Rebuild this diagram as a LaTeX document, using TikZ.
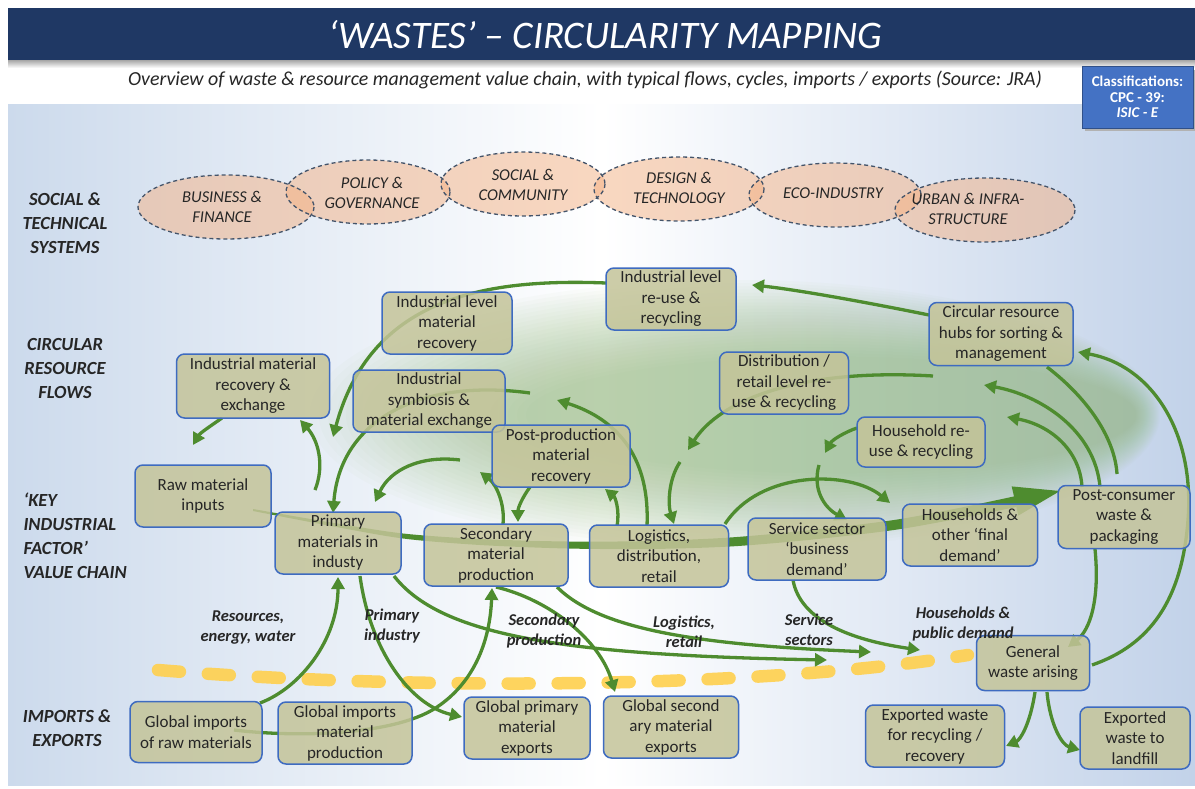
\documentclass[tikz,border=0pt]{standalone}
\usepackage{fontspec}
\setmainfont{Carlito}
\usetikzlibrary{arrows.meta}
\definecolor{navy}{HTML}{1F3864}
\definecolor{boxfill}{HTML}{C4C499}
\definecolor{boxblue}{HTML}{3E6BC0}
\definecolor{agreen}{HTML}{4E8C2F}
\definecolor{glow}{HTML}{8FB776}
\definecolor{peach}{HTML}{F4B183}
\definecolor{slate}{HTML}{44546A}
\definecolor{txt}{HTML}{262626}
\definecolor{ylw}{HTML}{FFD04D}
\definecolor{bgl}{HTML}{CCDAEC}
\definecolor{bgr}{HTML}{C2D2E9}
\definecolor{clsblue}{HTML}{4472C4}
\begin{document}
\begin{tikzpicture}[x=1pt,y=-1pt,
  box/.style={draw=boxblue, line width=1.5pt, fill=boxfill, fill opacity=0.85, text opacity=1,
    rounded corners=8pt, align=center, text=txt, inner sep=1pt,
    font=\fontsize{17}{20.5}\selectfont},
  sz/.style 2 args={minimum width=#1pt, minimum height=#2pt},
  flow/.style={draw=agreen, line width=3.3pt, -{Triangle[length=12pt,width=13pt]}},
  flown/.style={draw=agreen, line width=3.3pt},
  sysfill/.style={fill=peach, fill opacity=0.5},
  sysline/.style={draw=slate, line width=1.3pt, dash pattern=on 4pt off 3pt},
  systxt/.style={align=center, text=txt, font=\fontsize{16.5}{20}\selectfont\itshape},
  side/.style={align=center, text=txt, font=\fontsize{18.5}{24}\selectfont\bfseries\itshape},
  lab/.style={align=center, text=txt, font=\fontsize{16.5}{20}\selectfont\bfseries\itshape}]
\useasboundingbox (0,0) rectangle (1195,789);
% ---------- background ----------
\fill[white] (0,0) rectangle (1195,789);
\shade[left color=bgl, right color=bgr, middle color=white] (8,105) rectangle (1195,785);
\shade[top color=black!35, bottom color=white] (8,60) rectangle (1195,68);
\fill[navy] (8,8) rectangle (1195,60);
\node[text=white, font=\fontsize{39}{44}\selectfont\itshape] (title) at (605,35) {‘WASTES’ – CIRCULARITY MAPPING};
\node[text=txt, font=\fontsize{19.9}{22}\selectfont\itshape] (subtitle) at (585,80)
  {Overview of waste \& resource management value chain, with typical flows, cycles, imports / exports (Source: JRA)};
\fill[black!30] (1085,70) rectangle (1196,131);
\node[draw=clsblue!70!black, line width=0.8pt, fill=clsblue, text=white, align=center, inner sep=0pt,
  minimum width=111pt, minimum height=62pt, font=\fontsize{15}{15.5}\selectfont\bfseries] (cls) at (1137.5,97)
  {Classifications:\\CPC - 39:\\\textit{ISIC - E}};
% ---------- green glow ----------
\foreach \k in {0,...,24} {
  \fill[glow, opacity=0.032] ({735+\k*4},415) ellipse ({425-\k*5} and {135-\k*3.2});
}
% ---------- social & technical systems ----------
\fill[sysfill] (226,207) ellipse (88 and 32);
\fill[sysfill] (368,192) ellipse (82 and 32);
\fill[sysfill] (523,184) ellipse (82 and 32);
\fill[sysfill] (679,189) ellipse (85 and 32);
\fill[sysfill] (835,195) ellipse (86 and 32);
\fill[sysfill] (985,210) ellipse (90 and 32);
\draw[sysline] (226,207) ellipse (88 and 32);
\draw[sysline] (368,192) ellipse (82 and 32);
\draw[sysline] (523,184) ellipse (82 and 32);
\draw[sysline] (679,189) ellipse (85 and 32);
\draw[sysline] (835,195) ellipse (86 and 32);
\draw[sysline] (985,210) ellipse (90 and 32);
\node[systxt] (s1) at (222,207) {BUSINESS \&\\FINANCE};
\node[systxt] (s2) at (372,193) {POLICY \&\\GOVERNANCE};
\node[systxt] (s3) at (523,185) {SOCIAL \&\\COMMUNITY};
\node[systxt] (s4) at (679,188) {DESIGN \&\\TECHNOLOGY};
\node[systxt] (s5) at (833,193) {ECO-INDUSTRY};
\node[systxt] (s6) at (968,209) {URBAN \& INFRA-\\STRUCTURE};
% ---------- side labels ----------
\node[side] (l1) at (65,223) {SOCIAL \&\\TECHNICAL\\SYSTEMS};
\node[side] (l2) at (65,368) {CIRCULAR\\RESOURCE\\FLOWS};
\node[side, align=left, anchor=west] (l3) at (20,536) {‘KEY\\INDUSTRIAL\\FACTOR’\\VALUE CHAIN};
\node[side] (l4) at (67,728) {IMPORTS \&\\EXPORTS};
% ---------- yellow boundary ----------
\draw[ylw, opacity=0.9, line width=12.5pt, line cap=round, dash pattern=on 22pt off 28pt]
  (158,670) .. controls (400,690) and (750,690) .. (968,655);
% ---------- named coordinates ----------
\coordinate (c1) at (333,437);
\coordinate (c2) at (752,285);
\coordinate (c3) at (984,385);
\coordinate (c4) at (1007,417);
\coordinate (c5) at (933,376);
\coordinate (c6) at (688,450);
\coordinate (c7) at (825,453);
\coordinate (c8) at (680,462);
\coordinate (c9) at (819,465);
\coordinate (c10) at (315,490);
\coordinate (c11) at (193,445);
\coordinate (c12) at (530,393);
\coordinate (c13) at (460,460);
\coordinate (c14) at (375,502);
\coordinate (c15) at (480,472);
\coordinate (c16) at (557,400);
\coordinate (c17) at (890,503);
\coordinate (c18) at (827,660);
\coordinate (c19) at (871,652);
\coordinate (c20) at (920,650);
\coordinate (c21) at (1117,474);
% ---------- main spine ----------
\fill[agreen] plot[smooth] coordinates {(253,509) (330,522.3) (403,533.5) (480,539) (567,541.5) (650,541) (730,537.5) (810,530.2) (894,520) (960,507.8) (1016,496)}
  -- plot[smooth] coordinates {(1016,507) (960,518.3) (894,530) (810,539.8) (730,546.5) (650,549) (567,548.5) (480,545) (403,538.5) (330,525.8) (253,511)} -- cycle;
\fill[agreen] (1060,491) -- (1018.3,515.6) -- (1011.7,486.4) -- cycle;
% ---------- flows (drawn first so boxes sit on top) ----------
\path (606,283) coordinate (ilrw);
\draw[flow] (ilrw) .. controls (480,278) and (370,300) .. (c1);
\draw[flow] (929,315) coordinate (hubw) .. controls (880,305) and (800,290) .. (c2);
\draw[flow] (1092,665) coordinate (genr) .. controls (1150,645) and (1182,600) .. (1188,520)
   .. controls (1195,430) and (1150,365) .. (1078,352) coordinate (hubr);
\draw[flow] (1100,487) coordinate (pt1) .. controls (1095,430) and (1040,395) .. (c3);
\draw[flow] (1082,487) coordinate (pt2) .. controls (1080,450) and (1050,425) .. (c4);
\draw[flown] (1047,367) coordinate (hubb) .. controls (1090,400) and (1115,440) .. (c21);
\draw[flow] (1095,549) coordinate (pb) .. controls (1100,600) and (1090,630) .. (1068,647) coordinate (gent);
\draw[flow] (1035,692) coordinate (genb1) .. controls (1030,725) and (1020,740) .. (1006,746) coordinate (exre);
\draw[flow] (1047,692) coordinate (genb2) .. controls (1050,725) and (1062,745) .. (1080,750) coordinate (exlw);
\draw[flow] (c5) .. controls (800,368) and (720,400) .. (c6);
\draw[flow] (857,428) coordinate (hrew) .. controls (845,432) and (832,440) .. (c7);
\draw[flow] (c8) .. controls (668,480) and (668,505) .. (674,524) coordinate (logt);
\draw[flow] (c9) .. controls (812,490) and (825,508) .. (847,520) coordinate (servt);
\draw[flow] (725,524) coordinate (logtr) .. controls (760,470) and (850,470) .. (c17);
\draw[flow] (c10) .. controls (325,465) and (318,440) .. (300,420) coordinate (imreb);
\draw[flow] (222,418) coordinate (imrebl) .. controls (212,425) and (200,433) .. (c11);
\draw[flow] (c12) .. controls (420,378) and (340,420) .. (333,513) coordinate (primt);
\draw[flow] (c13) .. controls (420,455) and (390,470) .. (c14);
\draw[flow] (503,524) coordinate (sect) .. controls (505,505) and (497,485) .. (c15);
\draw[flow] (530,487) coordinate (pprb) .. controls (522,498) and (518,508) .. (518,522) coordinate (sect2);
\draw[flow] (617,526) coordinate (logt2) .. controls (620,510) and (615,497) .. (605,489) coordinate (pprb2);
\draw[flow] (647,526) coordinate (logt3) .. controls (650,460) and (620,420) .. (c16);
% bottom flows
\draw[flow] (260,703) coordinate (girt) .. controls (300,688) and (338,640) .. (338,577) coordinate (primb);
\draw[flow] (234,730) coordinate (girc) .. controls (300,738) and (400,735) .. (440,705)
   .. controls (475,680) and (490,640) .. (492,588) coordinate (secb);
\draw[flow] (360,576) coordinate (primb2) .. controls (370,650) and (410,705) .. (462,717) coordinate (gpew);
\draw[flow] (394,576) coordinate (primb3) .. controls (440,635) and (560,655) .. (c18);
\draw[flow] (496,587) coordinate (secb2) .. controls (550,600) and (600,640) .. (615,692) coordinate (gset);
\draw[flow] (557,587) coordinate (secb3) .. controls (600,630) and (700,645) .. (c19);
\draw[flow] (793,580) coordinate (servb) .. controls (800,620) and (850,640) .. (c20);
% ---------- boxes ----------
\node[box, sz={136}{62}] (raw) at (203,496) {Raw material\\inputs};
\node[box, sz={126}{62}] (prim) at (338,543) {Primary\\materials in\\industy};
\node[box, sz={144}{62}] (sec) at (496,555) {Secondary\\material\\production};
\node[box, sz={139}{62}] (logi) at (659,556) {Logistics,\\distribution,\\retail};
\node[box, sz={138}{62}] (serv) at (817,549) {Service sector\\‘business\\demand’};
\node[box, sz={135}{62}] (hh) at (970,535) {Households \&\\other ‘final\\demand’};
\node[box, sz={132}{63}] (post) at (1124,517) {Post-consumer\\waste \&\\packaging};
\node[box, sz={153}{64}] (imre) at (253,386) {Industrial material\\recovery \&\\exchange};
\node[box, sz={130}{62}] (ilmr) at (447,323) {Industrial level\\material\\recovery};
\node[box, sz={152}{62}] (sym) at (429,401) {Industrial\\symbiosis \&\\material exchange};
\node[box, sz={138}{62}] (ppr) at (561,456) {Post-production\\material\\recovery};
\node[box, sz={130}{62}] (ilr) at (671,299) {Industrial level\\re-use \&\\recycling};
\node[box, sz={129}{62}] (dist) at (784,383) {Distribution /\\retail level re-\\use \& recycling};
\node[box, sz={128}{50}] (hre) at (921,442) {Household re-\\use \& recycling};
\node[box, sz={144}{63}] (hub) at (1001,334) {Circular resource\\hubs for sorting \&\\management};
\node[box, sz={113}{55}] (gen) at (1033,663) {General\\waste arising};
\node[box, sz={139}{62}] (exr) at (935,736) {Exported waste\\for recycling /\\recovery};
\node[box, sz={110}{62}] (exl) at (1135,738) {Exported\\waste to\\landfill};
\node[box, sz={132}{61}] (gir) at (196,732) {Global imports\\of raw materials};
\node[box, sz={134}{62}] (gim) at (345,733) {Global imports\\material\\production};
\node[box, sz={126}{62}] (gpe) at (527,728) {Global primary\\material\\exports};
\node[box, sz={135}{62}] (gse) at (671,727) {Global second\\ary material\\exports};
% ---------- flow labels ----------
\node[lab] (t1) at (248,628) {Resources,\\energy, water};
\node[lab] (t2) at (392,626) {Primary\\industry};
\node[lab] (t3) at (544,631) {Secondary\\production};
\node[lab] (t4) at (684,632) {Logistics,\\retail};
\node[lab] (t5) at (809,630) {Service\\sectors};
\node[lab] (t6) at (963,624) {Households \&\\public demand};
\end{tikzpicture}
\end{document}
